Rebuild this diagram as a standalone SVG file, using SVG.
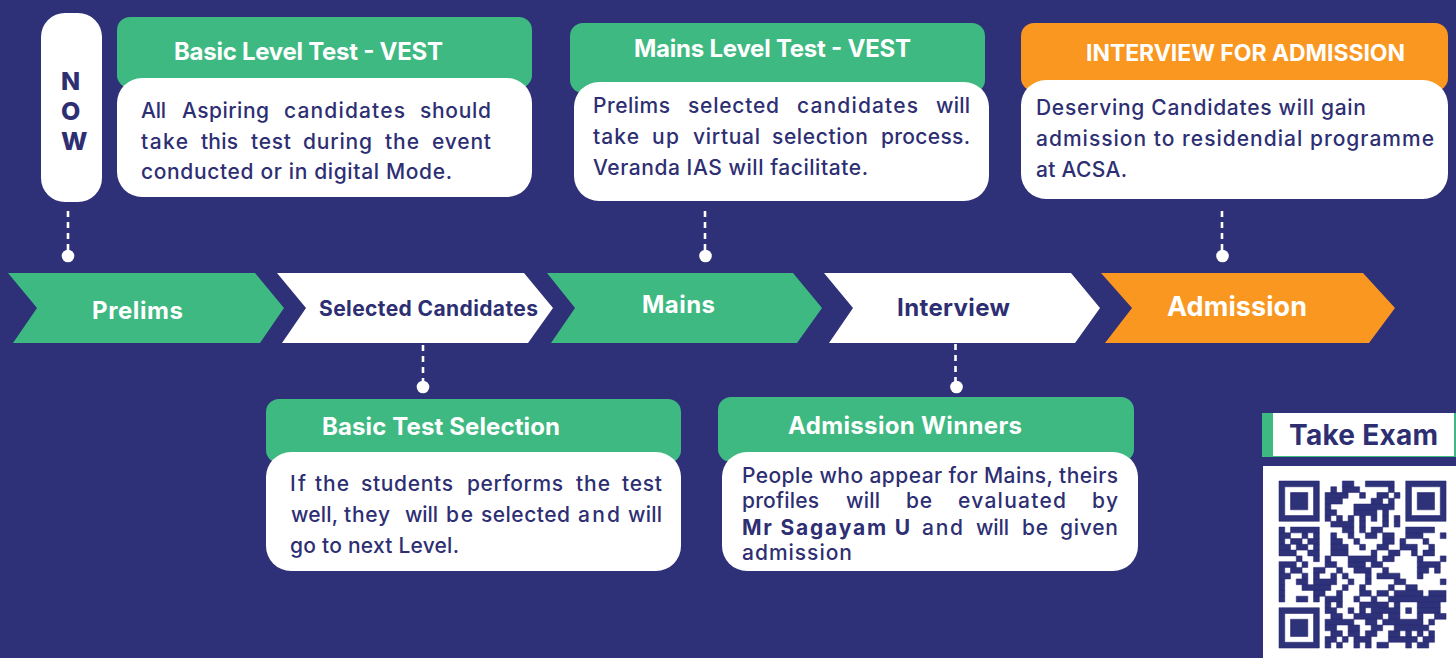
<svg xmlns="http://www.w3.org/2000/svg" width="1456" height="658" viewBox="0 0 1456 658">
<defs><filter id="soft" x="-2%" y="-2%" width="104%" height="104%"><feGaussianBlur stdDeviation="0.45"/></filter></defs>
<style>
text{font-family:Inter,"Noto Sans","Liberation Sans",sans-serif}
.body{font-size:21px;font-weight:500;fill:#2e2f73}
.title{font-size:24px;font-weight:700;fill:#fff}
.now{font-size:25px;font-weight:800;fill:#2e2f73}
.w{fill:#fff}.g{fill:#3eb982}.o{fill:#f99721}
.d{stroke:#fff;stroke-width:2.6;stroke-dasharray:6 5;fill:none}
.q{fill:#2e3078;stroke:#2e3078;stroke-width:0.1}
</style>
<rect width="1456" height="658" fill="#2e3078"/>
<g id="connectors">
<path class="d" d="M68 211V252M705 211V252M1222 211V252M423 345V383M955.500 344V383"/>
<g class="w"><circle cx="68" cy="256" r="6.300"/><circle cx="705.500" cy="256" r="6.300"/><circle cx="1222.500" cy="256" r="6.300"/><circle cx="423" cy="387" r="6.300"/><circle cx="956.500" cy="387" r="6.300"/></g>
</g>
<g id="now"><rect class="w" x="41" y="13" width="61" height="189" rx="24"/>
<text class="now" x="61" y="90">N</text><text class="now" x="61" y="120">O</text><text class="now" x="61" y="150">W</text></g>
<g id="basic-level"><rect class="g" x="117" y="17" width="415" height="71" rx="13"/><rect class="w" x="117" y="78" width="415" height="119" rx="25"/>
<text class="title" x="174" y="60" textLength="269">Basic Level Test - VEST</text>
<text class="body" y="118"><tspan x="141" textLength="25">All</tspan> <tspan x="182" textLength="87">Aspiring</tspan> <tspan x="284" textLength="121">candidates</tspan> <tspan x="420" textLength="71">should</tspan></text>
<text class="body" y="149"><tspan x="141" textLength="47">take</tspan> <tspan x="201" textLength="37">this</tspan> <tspan x="251" textLength="40">test</tspan> <tspan x="303" textLength="69">during</tspan> <tspan x="385" textLength="34">the</tspan> <tspan x="432" textLength="59">event</tspan></text>
<text class="body" x="141" y="179" textLength="311">conducted or in digital Mode.</text></g>
<g id="mains-level"><rect class="g" x="570" y="23" width="415" height="70" rx="13"/><rect class="w" x="574" y="82" width="415" height="119" rx="25"/>
<text class="title" x="634" y="57" textLength="277">Mains Level Test - VEST</text>
<text class="body" y="113"><tspan x="593" textLength="77">Prelims</tspan> <tspan x="688" textLength="91">selected</tspan> <tspan x="797" textLength="121">candidates</tspan> <tspan x="936" textLength="34">will</tspan></text>
<text class="body" y="144"><tspan x="593" textLength="46">take</tspan> <tspan x="652" textLength="27">up</tspan> <tspan x="693" textLength="67">virtual</tspan> <tspan x="772" textLength="96">selection</tspan> <tspan x="881" textLength="89">process.</tspan></text>
<text class="body" x="593" y="175" textLength="275">Veranda IAS will facilitate.</text></g>
<g id="interview-admission"><rect class="o" x="1021" y="23" width="427" height="68" rx="13"/><rect class="w" x="1021" y="80" width="427" height="119" rx="25"/>
<text class="title" style="font-size:23px" x="1086" y="61" textLength="319">INTERVIEW FOR ADMISSION</text>
<text class="body" x="1036" y="115" textLength="330">Deserving Candidates will gain</text>
<text class="body" x="1036" y="146" textLength="398">admission to residendial programme</text>
<text class="body" x="1036" y="177" textLength="91">at ACSA.</text></g>
<g id="prelims"><polygon class="g" points="8,273 255,273 284,308 260,343 13,343 37,308"/><text class="title" x="92" y="319" textLength="91">Prelims</text></g>
<g id="selected"><polygon class="w" points="277,273 524,273 553,308 528,343 282,343 306,308"/><text class="title" style="font-size:21px;fill:#2e2f73" x="319" y="316" textLength="219">Selected Candidates</text></g>
<g id="mains"><polygon class="g" points="547,273 793,273 822,308 797,343 551,343 575,308"/><text class="title" x="642" y="313" textLength="73">Mains</text></g>
<g id="interview"><polygon class="w" points="824,273 1071,273 1100,308 1075,343 829,343 853,308"/><text class="title" style="fill:#2e2f73" x="897" y="316" textLength="113">Interview</text></g>
<g id="admission"><polygon class="o" points="1101,273 1363,273 1395,308 1369,343 1105,343 1132,308"/><text class="title" style="font-size:27px" x="1167" y="316" textLength="140">Admission</text></g>
<g id="basic-selection"><rect class="g" x="266" y="399" width="415" height="64" rx="13"/><rect class="w" x="266" y="452" width="415" height="119" rx="25"/>
<text class="title" x="322" y="435" textLength="238">Basic Test Selection</text>
<text class="body" y="491"><tspan x="290" textLength="16">If</tspan> <tspan x="315" textLength="34">the</tspan> <tspan x="361" textLength="92">students</tspan> <tspan x="467" textLength="96">performs</tspan> <tspan x="576" textLength="34">the</tspan> <tspan x="622" textLength="40">test</tspan></text>
<text class="body" y="522"><tspan x="291" textLength="47">well,</tspan> <tspan x="344" textLength="46">they</tspan> <tspan x="405" textLength="33">will</tspan> <tspan x="446" textLength="27">be</tspan> <tspan x="481" textLength="89">selected</tspan> <tspan x="578" textLength="42">and</tspan> <tspan x="628" textLength="34">will</tspan></text>
<text class="body" x="290" y="553" textLength="169">go to next Level.</text></g>
<g id="admission-winners"><rect class="g" x="718" y="397" width="416" height="65" rx="13"/><rect class="w" x="722" y="452" width="416" height="119" rx="25"/>
<text class="title" x="788" y="434" textLength="234">Admission Winners</text>
<text class="body" x="742" y="483" textLength="376">People who appear for Mains, theirs</text>
<text class="body" y="508"><tspan x="742" textLength="77">profiles</tspan> <tspan x="846" textLength="34">will</tspan> <tspan x="906" textLength="26">be</tspan> <tspan x="958" textLength="108">evaluated</tspan> <tspan x="1092" textLength="26">by</tspan></text>
<text class="body" y="535"><tspan x="742" textLength="168" style="font-weight:700">Mr Sagayam U</tspan> <tspan x="922" textLength="41">and</tspan> <tspan x="976" textLength="33">will</tspan> <tspan x="1022" textLength="26">be</tspan> <tspan x="1060" textLength="58">given</tspan></text>
<text class="body" x="742" y="560" textLength="110">admission</text></g>
<g id="take-exam"><rect class="g" x="1262" y="413" width="194" height="44"/><rect class="w" x="1273" y="413" width="181" height="43"/>
<text class="title" style="font-size:28px;fill:#2e2f73" x="1289" y="445" textLength="149">Take Exam</text></g>
<g id="qr"><rect class="w" x="1263" y="466" width="193" height="192"/>
<g filter="url(#soft)">
<path class="q" transform="translate(1279 481) scale(5.76)" d="M0 0h7v7h-7zM1 1v5h5v-5zM2 2h3v3h-3zM22 0h7v7h-7zM23 1v5h5v-5zM24 2h3v3h-3zM0 22h7v7h-7zM1 23v5h5v-5zM2 24h3v3h-3z" fill-rule="evenodd"/>
<path class="q" transform="translate(1279 481) scale(5.76)" d="M11 0h2v1h-2zM15 0h5v1h-5zM9 1h1v1h-1zM11 1h3v1h-3zM19 1h1v1h-1zM8 2h4v1h-4zM14 2h1v1h-1zM17 2h2v1h-2zM20 2h1v1h-1zM8 3h3v1h-3zM16 3h2v1h-2zM19 3h1v1h-1zM8 4h1v1h-1zM13 4h7v1h-7zM8 5h2v1h-2zM13 5h4v1h-4zM18 5h1v1h-1zM8 6h1v1h-1zM10 6h1v1h-1zM12 6h1v1h-1zM14 6h1v1h-1zM16 6h1v1h-1zM18 6h1v1h-1zM20 6h1v1h-1zM9 7h4v1h-4zM14 7h1v1h-1zM18 7h1v1h-1zM20 7h1v1h-1zM0 8h1v1h-1zM2 8h5v1h-5zM11 8h2v1h-2zM14 8h1v1h-1zM16 8h2v1h-2zM22 8h5v1h-5zM0 9h2v1h-2zM4 9h1v1h-1zM6 9h1v1h-1zM9 9h1v1h-1zM12 9h1v1h-1zM15 9h2v1h-2zM18 9h2v1h-2zM22 9h3v1h-3zM28 9h1v1h-1zM0 10h1v1h-1zM2 10h2v1h-2zM5 10h2v1h-2zM9 10h2v1h-2zM13 10h1v1h-1zM18 10h2v1h-2zM21 10h1v1h-1zM25 10h1v1h-1zM0 11h2v1h-2zM3 11h2v1h-2zM6 11h1v1h-1zM9 11h3v1h-3zM14 11h1v1h-1zM17 11h2v1h-2zM21 11h3v1h-3zM26 11h1v1h-1zM0 12h3v1h-3zM5 12h2v1h-2zM9 12h3v1h-3zM16 12h1v1h-1zM19 12h2v1h-2zM23 12h1v1h-1zM25 12h2v1h-2zM3 13h1v1h-1zM6 13h1v1h-1zM8 13h1v1h-1zM12 13h5v1h-5zM18 13h2v1h-2zM24 13h1v1h-1zM28 13h1v1h-1zM0 14h3v1h-3zM4 14h1v1h-1zM8 14h2v1h-2zM12 14h3v1h-3zM16 14h2v1h-2zM24 14h4v1h-4zM0 15h1v1h-1zM2 15h2v1h-2zM6 15h2v1h-2zM10 15h1v1h-1zM13 15h3v1h-3zM18 15h1v1h-1zM24 15h2v1h-2zM27 15h1v1h-1zM0 16h2v1h-2zM4 16h1v1h-1zM6 16h1v1h-1zM9 16h1v1h-1zM11 16h1v1h-1zM15 16h1v1h-1zM17 16h4v1h-4zM24 16h1v1h-1zM0 17h1v1h-1zM3 17h2v1h-2zM6 17h4v1h-4zM12 17h1v1h-1zM15 17h1v1h-1zM20 17h2v1h-2zM28 17h1v1h-1zM0 18h1v1h-1zM4 18h5v1h-5zM11 18h1v1h-1zM14 18h1v1h-1zM19 18h1v1h-1zM22 18h2v1h-2zM0 19h1v1h-1zM6 19h2v1h-2zM10 19h1v1h-1zM14 19h2v1h-2zM17 19h2v1h-2zM20 19h5v1h-5zM26 19h3v1h-3zM0 20h1v1h-1zM3 20h2v1h-2zM6 20h1v1h-1zM8 20h3v1h-3zM13 20h1v1h-1zM16 20h1v1h-1zM19 20h10v1h-10zM8 21h1v1h-1zM10 21h1v1h-1zM14 21h5v1h-5zM20 21h1v1h-1zM24 21h4v1h-4zM8 22h2v1h-2zM12 22h1v1h-1zM14 22h1v1h-1zM16 22h5v1h-5zM22 22h1v1h-1zM24 22h4v1h-4zM9 23h2v1h-2zM13 23h5v1h-5zM19 23h2v1h-2zM24 23h1v1h-1zM27 23h2v1h-2zM8 24h5v1h-5zM15 24h2v1h-2zM18 24h7v1h-7zM26 24h1v1h-1zM8 25h2v1h-2zM12 25h2v1h-2zM16 25h2v1h-2zM20 25h6v1h-6zM9 26h2v1h-2zM12 26h2v1h-2zM15 26h2v1h-2zM19 26h2v1h-2zM22 26h1v1h-1zM24 26h1v1h-1zM26 26h1v1h-1zM8 27h2v1h-2zM11 27h1v1h-1zM13 27h3v1h-3zM19 27h5v1h-5zM25 27h2v1h-2zM8 28h1v1h-1zM10 28h1v1h-1zM13 28h1v1h-1zM15 28h1v1h-1zM17 28h2v1h-2zM22 28h1v1h-1zM24 28h2v1h-2z"/>
</g></g>
</svg>
